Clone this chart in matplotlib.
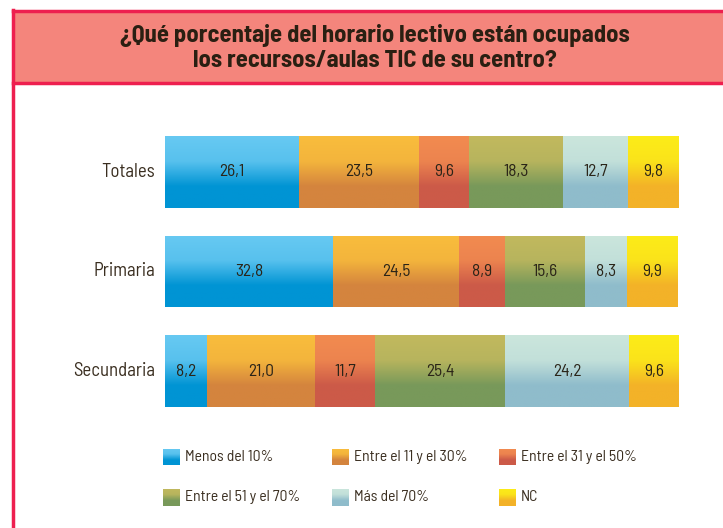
import matplotlib
matplotlib.use("Agg")
import matplotlib.pyplot as plt
import numpy as np
from matplotlib.colors import to_rgb
from matplotlib.patches import Rectangle
from matplotlib.lines import Line2D

plt.rcParams['font.family'] = ['Barlow Semi Condensed', 'DejaVu Sans']

categories = ["Totales", "Primaria", "Secundaria"]
series_names = ["Menos del 10%", "Entre el 11 y el 30%", "Entre el 31 y el 50%",
                "Entre el 51 y el 70%", "Más del 70%", "NC"]
menos10 = [26.1, 32.8, 8.2]
e11_30 = [23.5, 24.5, 21.0]
e31_50 = [9.6, 8.9, 11.7]
e51_70 = [18.3, 15.6, 25.4]
mas70 = [12.7, 8.3, 24.2]
nc = [9.8, 9.9, 9.6]
series_values = [menos10, e11_30, e31_50, e51_70, mas70, nc]

top_colors = ["#67c9f2", "#f9bd3c", "#f28b50", "#c2b95e", "#cbe6dc", "#fcec18"]
bot_colors = ["#0094d4", "#d4843e", "#cc5a48", "#78995a", "#8fbccb", "#f3b228"]

title = "¿Qué porcentaje del horario lectivo están ocupados\nlos recursos/aulas TIC de su centro?"

W, H = 723, 528
fig = plt.figure(figsize=(W / 100, H / 100), dpi=100)
fig.patch.set_facecolor("white")

def fx(px):
    return px / W

def fy(py):
    return 1 - py / H

crimson = "#ee1f4f"
fig.patches.append(Rectangle((fx(13), fy(83)), fx(723) - fx(13), fy(11) - fy(83),
                             transform=fig.transFigure, facecolor="#f4857c",
                             edgecolor="none", zorder=0))
fig.lines.append(Line2D([fx(13), 1], [fy(11), fy(11)], transform=fig.transFigure,
                        color=crimson, lw=2.5))
fig.lines.append(Line2D([fx(13), 1], [fy(83), fy(83)], transform=fig.transFigure,
                        color=crimson, lw=2.5))
fig.lines.append(Line2D([fx(13), fx(13)], [fy(10), 0], transform=fig.transFigure,
                        color=crimson, lw=2.5))
fig.text(fx(375), fy(48), title, ha="center", va="center", fontsize=17.7,
         fontweight="bold", color="#2a1f12", linespacing=1.12)

def gradient_img(c_top, c_bot, n=100):
    t = np.linspace(0, 1, n)
    w = np.clip((t - 0.35) / 0.35, 0, 1)
    w = 0.15 * (t / 0.35).clip(0, 1) * (t < 0.35) + np.where(t >= 0.35, 0.15 + 0.85 * w, 0)
    a = np.array(to_rgb(c_top))
    b = np.array(to_rgb(c_bot))
    img = a[None, :] * (1 - w[:, None]) + b[None, :] * w[:, None]
    return img[:, None, :]

ax = fig.add_axes([fx(165), fy(421), fx(678) - fx(165), fy(122) - fy(421)])
ax.set_xlim(0, 100)
ax.set_ylim(2.5, -0.5)
ax.axis("off")

ypos = np.arange(len(categories))
left = np.zeros(len(categories))
bh = 0.72
for vals, ct, cb in zip(series_values, top_colors, bot_colors):
    vals = np.array(vals)
    bars = ax.barh(ypos, vals, left=left, height=bh, color=cb, edgecolor="none")
    for bar, v, l, y in zip(bars, vals, left, ypos):
        im = ax.imshow(gradient_img(ct, cb), extent=(l, l + v, y + bh / 2, y - bh / 2),
                       aspect="auto", origin="upper", interpolation="bilinear", zorder=2)
        im.set_clip_path(bar)
        ax.text(l + v / 2, y, f"{v:.1f}".replace(".", ","), ha="center", va="center",
                fontsize=12.5, color="#2a2418", zorder=3)
    left = left + vals

ax.set_xlim(0, 100)
ax.set_ylim(2.5, -0.5)

for y, c in zip(ypos, categories):
    ax.text(-1.9, y, c, ha="right", va="center", fontsize=13.5, color="#3a2e20")

legend_x = [163, 332, 499]
legend_y = [457, 497]
sq = 17
for i, (name, ct, cb) in enumerate(zip(series_names, top_colors, bot_colors)):
    r, c = divmod(i, 3)
    x0 = legend_x[c]
    yc = legend_y[r]
    lax = fig.add_axes([fx(x0), fy(yc + sq / 2), fx(sq), fy(yc - sq / 2) - fy(yc + sq / 2)])
    lax.imshow(gradient_img(ct, cb), aspect="auto", extent=(0, 1, 1, 0), interpolation="bilinear")
    lax.axis("off")
    fig.text(fx(x0 + sq + 5), fy(yc), name, ha="left", va="center", fontsize=11.3,
             color="#3a2e20")

fig.savefig("out.png", dpi=100, facecolor="white")
